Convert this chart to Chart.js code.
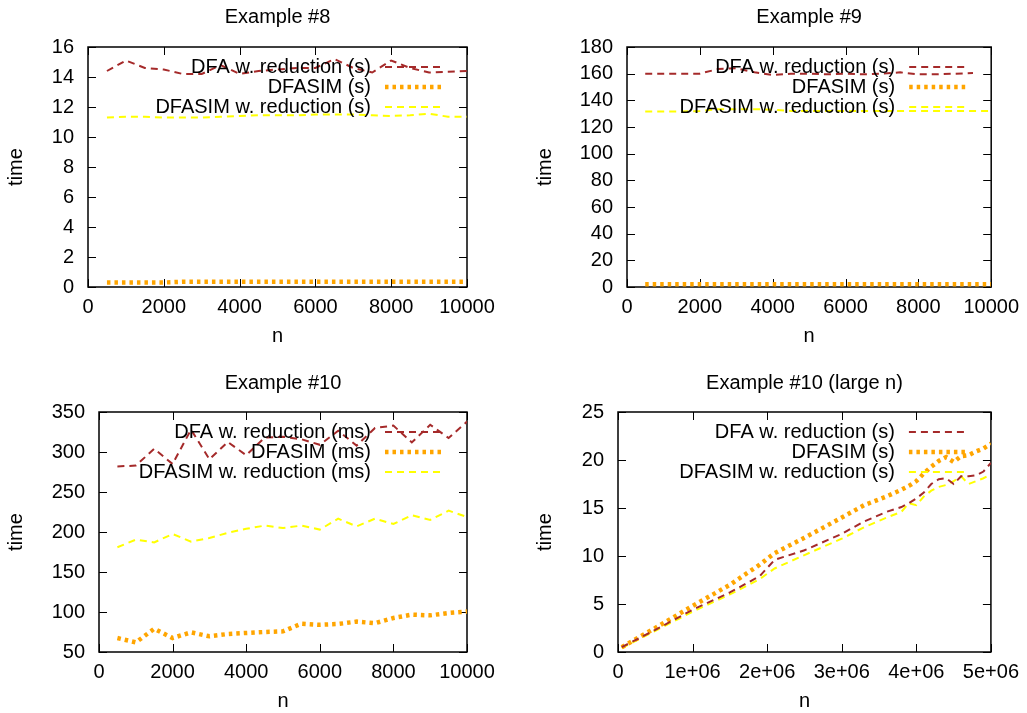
<!DOCTYPE html>
<html><head><meta charset="utf-8">
<script src="https://cdn.jsdelivr.net/npm/chart.js@4.4.1/dist/chart.umd.min.js"></script>
<style>
html,body{margin:0;padding:0;background:#fff;width:1027px;height:713px;overflow:hidden;position:relative}
canvas{position:absolute}
</style></head><body>
<canvas id="c1" width="513" height="356" style="left:0;top:0"></canvas>
<canvas id="c2" width="514" height="356" style="left:513px;top:0"></canvas>
<canvas id="c3" width="513" height="357" style="left:0;top:356px"></canvas>
<canvas id="c4" width="514" height="357" style="left:513px;top:356px"></canvas>
<script>
// ---- data ----
const seriesNamesS = ['DFA w. reduction (s)', 'DFASIM (s)', 'DFASIM w. reduction (s)'];
const seriesNamesMs = ['DFA w. reduction (ms)', 'DFASIM (ms)', 'DFASIM w. reduction (ms)'];
const titles = ['Example #8', 'Example #9', 'Example #10', 'Example #10 (large n)'];

const nSmall = [500,1000,1500,2000,2500,3000,3500,4000,4500,5000,5500,6000,6500,7000,7500,8000,8500,9000,9500,10000];

// Example #8
const ex8Dfa    = [14.4,15.1,14.6,14.5,14.2,14.2,14.8,14.2,14.4,14.5,14.6,14.6,15.2,14.6,14.3,15.1,14.6,14.3,14.35,14.4];
const ex8Sim    = [0.3,0.3,0.3,0.3,0.35,0.35,0.35,0.35,0.35,0.35,0.35,0.35,0.35,0.35,0.35,0.35,0.35,0.35,0.35,0.35];
const ex8SimRed = [11.3,11.35,11.35,11.3,11.3,11.3,11.35,11.4,11.45,11.45,11.45,11.5,11.5,11.5,11.45,11.4,11.45,11.55,11.35,11.35];

// Example #9 (DFA series stops at n = 9500)
const ex9Dfa    = [160,160,160,160,163.5,164,161,159,160,160,159.5,160,159.5,160,161,159.5,159.5,160,160.5];
const ex9Sim    = [2,2,2,2,2,2,2,2,2,2,2,2,2,2,2,2,2,2,2,2];
const ex9SimRed = [131.7,131.7,131.7,132,133.4,133.4,133.4,133,132,132,132,132,132,132,132,132,132,132,132,132];

// Example #10
const ex10Dfa    = [282,283,304,285,328,291,312.5,296,318,319,316,309,326.6,308,330,333,312,334,317.5,338];
const ex10Sim    = [67.5,62,79,67.5,74.6,69.6,72.5,73.8,75,75.8,85.4,84,85,88,86,92.5,96.7,95.8,98.8,100.5];
const ex10SimRed = [181,190.4,187,197.5,188,192.5,199,204,208,205,208,203,216.7,207,216.7,210,221,215,226.7,218.7];

// Example #10 (large n)
const nLarge        = [5e4,5e5,1e6,1.5e6,1.9e6,2.1e6,2.5e6,3e6,3.3e6,3.6e6,3.8e6,3.9e6,4.0e6,4.1e6,4.2e6,4.3e6,4.4e6,4.5e6,4.6e6,4.7e6,4.8e6,4.9e6,5e6];
const ex10LDfa      = [0.5,2.3,4.4,6.2,7.9,9.6,10.6,12.3,13.6,14.6,15.1,15.5,16.0,16.6,17.5,18.0,18.1,17.5,18.3,18.3,18.4,18.8,19.7];
const ex10LSim      = [0.5,2.5,4.8,7.0,9.1,10.3,11.9,14.0,15.3,16.2,16.9,17.3,17.8,18.6,19.3,19.9,20.3,19.8,20.4,20.5,20.9,21.2,21.7];
const ex10LSimRed   = [0.4,2.2,4.2,6.0,7.6,8.7,10.1,11.8,13.0,14.0,14.6,15.5,15.3,16.2,16.8,17.2,17.4,17.8,18.3,17.5,17.8,18.1,18.5];

// ---- styles ----
const RED = '#a52a2a', ORANGE = '#ffa500', YELLOW = '#ffff00';
const FONT = '"Liberation Sans", Arial, Helvetica, sans-serif';
const FS = 20;
Chart.defaults.font.family = FONT;
Chart.defaults.font.size = FS;
Chart.defaults.color = '#000';

function pts(xs, ys) { return ys.map((v, i) => ({x: xs[i], y: v})); }

const keyPlugin = {
  id: 'gkey',
  afterDatasetsDraw(chart) {
    const {ctx, chartArea: a} = chart;
    ctx.save();
    ctx.font = FS + 'px ' + FONT;
    ctx.textAlign = 'right'; ctx.textBaseline = 'middle'; ctx.fillStyle = '#000';
    chart.data.datasets.forEach((ds, i) => {
      const y = a.top + 20 + 20 * i;
      ctx.fillText(ds.label, a.right - 96, y);
      ctx.beginPath();
      ctx.setLineDash(ds.borderDash);
      ctx.lineWidth = ds.borderWidth;
      ctx.strokeStyle = ds.borderColor;
      ctx.lineCap = 'butt';
      ctx.moveTo(a.right - 82, y); ctx.lineTo(a.right - 24, y);
      ctx.stroke();
    });
    ctx.restore();
  }
};

const framePlugin = {
  id: 'gframe',
  beforeDatasetsDraw(chart) {
    const {ctx, chartArea: a, scales} = chart;
    const xs = scales.x, ys = scales.y;
    ctx.save();
    ctx.strokeStyle = '#000'; ctx.lineWidth = 1; ctx.setLineDash([]);
    ctx.beginPath();
    xs.ticks.forEach(t => {
      const p = Math.round(xs.getPixelForValue(t.value)) + 0.5;
      ctx.moveTo(p, a.bottom); ctx.lineTo(p, a.bottom - 8);
      ctx.moveTo(p, a.top); ctx.lineTo(p, a.top + 8);
    });
    ys.ticks.forEach(t => {
      const p = Math.round(ys.getPixelForValue(t.value)) + 0.5;
      ctx.moveTo(a.left, p); ctx.lineTo(a.left + 8, p);
      ctx.moveTo(a.right, p); ctx.lineTo(a.right - 8, p);
    });
    ctx.stroke();
    ctx.lineWidth = 1.5;
    ctx.strokeRect(a.left, a.top, a.right - a.left, a.bottom - a.top);
    ctx.restore();
  }
};

function makePanel(id, o) {
  const canvas = document.getElementById(id);
  const W = canvas.width, H = canvas.height;
  const LH = FS * 1.2;
  return new Chart(canvas, {
    type: 'line',
    data: {
      datasets: [
        {label: o.names[0], data: o.d1, borderColor: RED, borderWidth: 2, borderDash: [7, 5], pointRadius: 0, tension: 0, fill: false},
        {label: o.names[1], data: o.d2, borderColor: ORANGE, borderWidth: 4.5, borderDash: [3.5, 4], pointRadius: 0, tension: 0, fill: false},
        {label: o.names[2], data: o.d3, borderColor: YELLOW, borderWidth: 2, borderDash: [7, 5], pointRadius: 0, tension: 0, fill: false}
      ]
    },
    options: {
      responsive: false,
      animation: false,
      layout: {padding: {left: 0, right: W - o.right, top: 0, bottom: 0}},
      plugins: {
        legend: {display: false},
        tooltip: {enabled: false},
        title: {display: true, text: o.title, fullSize: false, color: '#000',
                font: {size: FS, weight: 'normal'},
                padding: {top: o.titleTop, bottom: o.top - o.titleTop - LH}}
      },
      scales: {
        x: {
          type: 'linear', min: o.xmin, max: o.xmax,
          grid: {display: false, drawTicks: false}, border: {display: false},
          ticks: {stepSize: o.xstep, autoSkip: false, maxRotation: 0, padding: 8, color: '#000',
                  callback: o.xfmt || (v => String(v))},
          title: {display: true, text: 'n', color: '#000', font: {size: FS}, padding: {top: 0, bottom: o.nPad}},
          afterFit: s => { s.height = H - o.bottom; }
        },
        y: {
          min: o.ymin, max: o.ymax,
          grid: {display: false, drawTicks: false}, border: {display: false},
          ticks: {stepSize: o.ystep, autoSkip: false, padding: 14, color: '#000'},
          title: {display: true, text: 'time', color: '#000', font: {size: FS}, padding: {top: o.timePad, bottom: 0}},
          afterFit: s => { s.width = o.left; }
        }
      }
    },
    plugins: [framePlugin, keyPlugin]
  });
}

const sci = v => v === 0 ? '0' : (v / 1e6) + 'e+06';

makePanel('c1', {title: titles[0], names: seriesNamesS,
  d1: pts(nSmall, ex8Dfa), d2: pts(nSmall, ex8Sim), d3: pts(nSmall, ex8SimRed),
  xmin: 0, xmax: 10000, xstep: 2000, ymin: 0, ymax: 16, ystep: 2,
  left: 88, right: 467, top: 47, bottom: 287, titleTop: 5, timePad: 4, nPad: 7.6});

makePanel('c2', {title: titles[1], names: seriesNamesS,
  d1: pts(nSmall, ex9Dfa), d2: pts(nSmall, ex9Sim), d3: pts(nSmall, ex9SimRed),
  xmin: 0, xmax: 10000, xstep: 2000, ymin: 0, ymax: 180, ystep: 20,
  left: 114, right: 482, top: 47, bottom: 287, titleTop: 5, timePad: 20, nPad: 7.6});

makePanel('c3', {title: titles[2], names: seriesNamesMs,
  d1: pts(nSmall, ex10Dfa), d2: pts(nSmall, ex10Sim), d3: pts(nSmall, ex10SimRed),
  xmin: 0, xmax: 10000, xstep: 2000, ymin: 50, ymax: 350, ystep: 50,
  left: 99, right: 467, top: 56, bottom: 296, titleTop: 15, timePad: 4, nPad: 0});

makePanel('c4', {title: titles[3], names: seriesNamesS,
  d1: pts(nLarge, ex10LDfa), d2: pts(nLarge, ex10LSim), d3: pts(nLarge, ex10LSimRed),
  xmin: 0, xmax: 5e6, xstep: 1e6, xfmt: sci, ymin: 0, ymax: 25, ystep: 5,
  left: 105, right: 482, top: 56, bottom: 296, titleTop: 15, timePad: 20, nPad: 0});
</script>
</body></html>
